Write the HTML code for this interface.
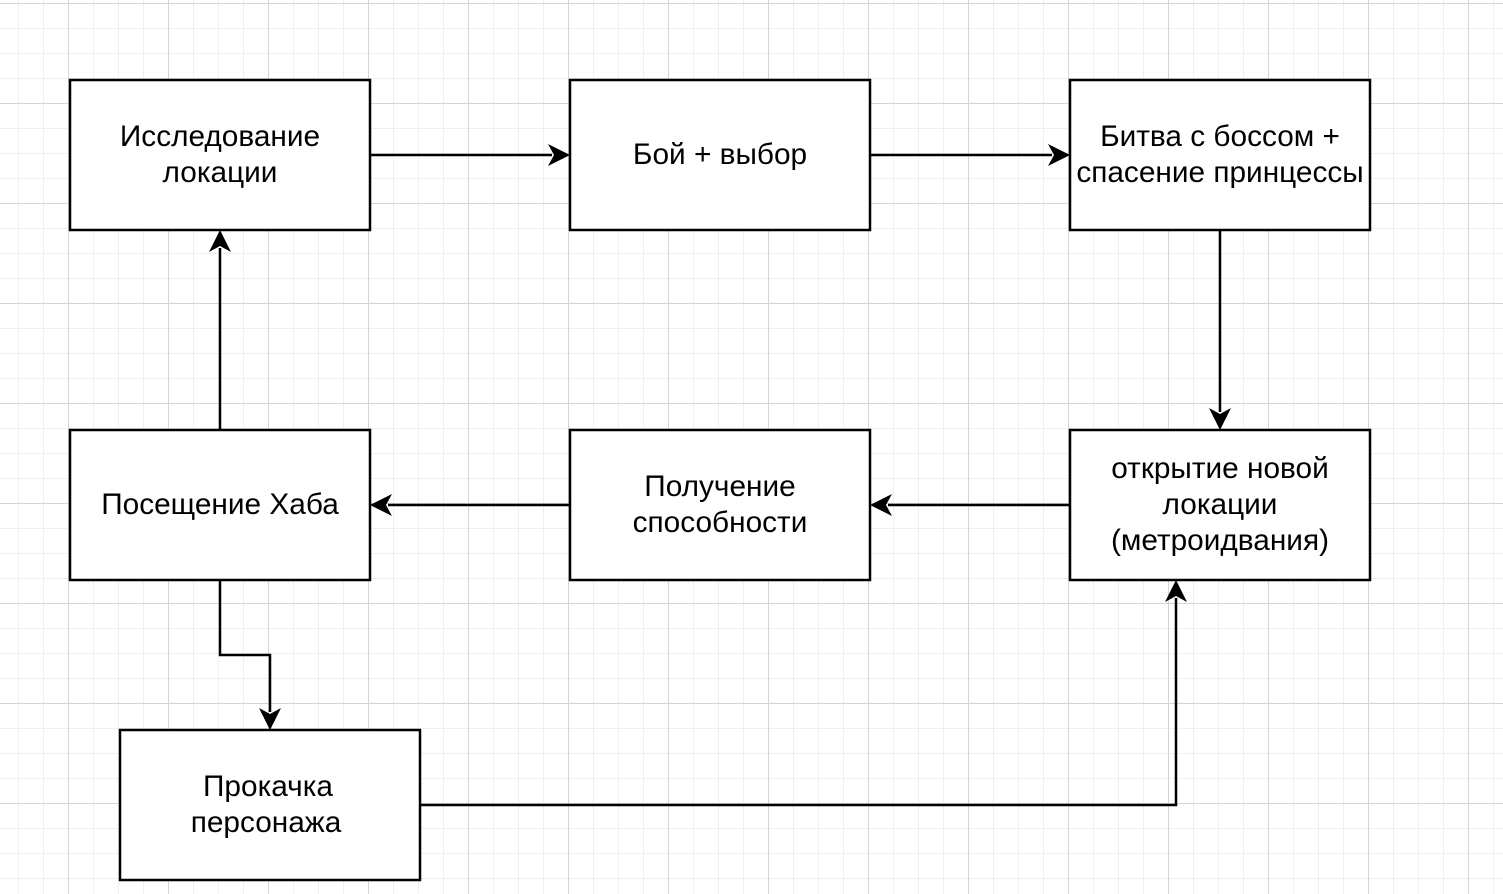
<!DOCTYPE html>
<html><head><meta charset="utf-8"><style>
html,body{margin:0;padding:0;background:#fff;}
svg{display:block;}
text{font-family:"Liberation Sans",Arial,sans-serif;font-size:29.8px;fill:#000;}
</style></head><body>
<svg width="1503" height="894" viewBox="0 0 1503 894" xmlns="http://www.w3.org/2000/svg">
<defs>
<pattern id="minor" x="-7" y="3" width="25" height="25" patternUnits="userSpaceOnUse">
<path d="M0.5 0V25M0 0.5H25" stroke="#efefef" stroke-width="1" fill="none"/>
</pattern>
<pattern id="major" x="-32" y="3" width="100" height="100" patternUnits="userSpaceOnUse">
<path d="M0.5 0V100M0 0.5H100" stroke="#d4d4d4" stroke-width="1" fill="none"/>
</pattern>
</defs>
<rect width="1503" height="894" fill="url(#minor)"/>
<rect width="1503" height="894" fill="url(#major)"/>
<g fill="#fff" stroke="#000" stroke-width="2.5">
<rect x="70" y="80" width="300" height="150"/>
<rect x="570" y="80" width="300" height="150"/>
<rect x="1070" y="80" width="300" height="150"/>
<rect x="70" y="430" width="300" height="150"/>
<rect x="570" y="430" width="300" height="150"/>
<rect x="1070" y="430" width="300" height="150"/>
<rect x="120" y="730" width="300" height="150"/>
</g>
<g stroke="#000" stroke-width="2.5" fill="none">
<path d="M370 155H552"/>
<path d="M870 155H1052"/>
<path d="M1220 230V412"/>
<path d="M1070 505H888"/>
<path d="M570 505H388"/>
<path d="M220 430V248"/>
<path d="M220 580V655H270V712"/>
<path d="M420 805H1176V598"/>
</g>
<g fill="#000">
<path d="M570 155L548 144L554 155L548 166Z"/>
<path d="M1070 155L1048 144L1054 155L1048 166Z"/>
<path d="M1220 430L1209 408L1220 414L1231 408Z"/>
<path d="M870 505L892 494L886 505L892 516Z"/>
<path d="M370 505L392 494L386 505L392 516Z"/>
<path d="M220 230L209 252L220 246L231 252Z"/>
<path d="M270 730L259 708L270 714L281 708Z"/>
<path d="M1176 580L1165 602L1176 596L1187 602Z"/>
</g>
<g text-anchor="middle">
<text x="220" y="146">Исследование</text>
<text x="220" y="182">локации</text>
<text x="720" y="164">Бой + выбор</text>
<text x="1220" y="146">Битва с боссом +</text>
<text x="1220" y="182">спасение принцессы</text>
<text x="220" y="514">Посещение Хаба</text>
<text x="720" y="496">Получение</text>
<text x="720" y="532">способности</text>
<text x="1220" y="478">открытие новой</text>
<text x="1220" y="514">локации</text>
<text x="1220" y="550">(метроидвания)</text>
<text x="268" y="796">Прокачка</text>
<text x="266" y="832">персонажа</text>
</g>
</svg>
</body></html>
